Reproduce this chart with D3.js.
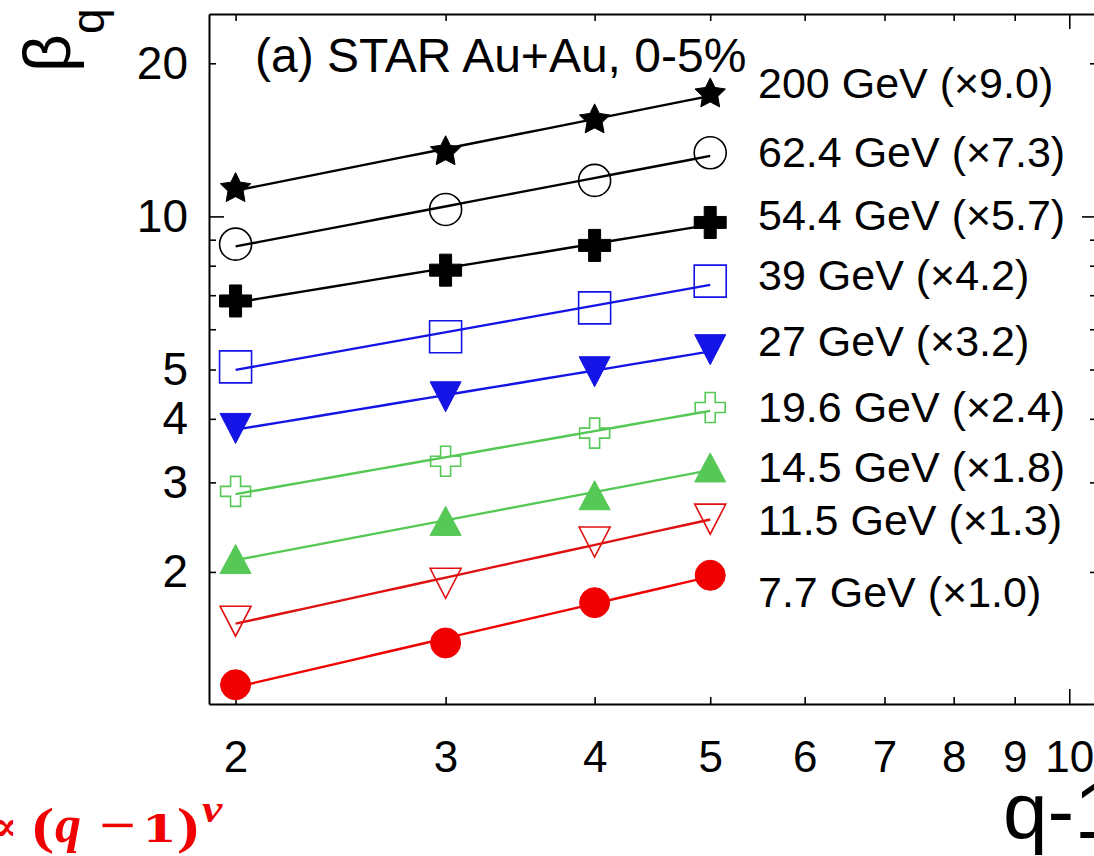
<!DOCTYPE html>
<html>
<head>
<meta charset="utf-8">
<script src="https://cdn.jsdelivr.net/npm/d3@7"></script>
<style>
  body { margin: 0; background: #fff; }
  svg { display: block; }
  text { font-family: "Liberation Sans", Arial, Helvetica, sans-serif; fill: #000; }
</style>
</head>
<body>
<svg id="chart" width="1094" height="856"></svg>
<script>
// q-1 values measured for each beam energy
const qMinus1 = [2, 3, 4, 5];

// beam energies (top to bottom) and the factor each series is scaled by
const energies = ["200 GeV", "62.4 GeV", "54.4 GeV", "39 GeV", "27 GeV", "19.6 GeV", "14.5 GeV", "11.5 GeV", "7.7 GeV"];
const scaleFactors = ["9.0", "7.3", "5.7", "4.2", "3.2", "2.4", "1.8", "1.3", "1.0"];

// scaled beta_q values at q-1 = 2, 3, 4, 5
const beta200  = [11.34, 13.40, 15.48, 17.41];
const beta62   = [8.82, 10.32, 11.77, 13.34];
const beta54   = [6.82, 7.84, 8.77, 9.73];
const beta39   = [5.06, 5.80, 6.61, 7.46];
const beta27   = [3.83, 4.42, 4.95, 5.47];
const beta19   = [2.88, 3.30, 3.75, 4.21];
const beta14   = [2.12, 2.52, 2.83, 3.21];
const beta11   = [1.60, 1.90, 2.29, 2.54];
const beta7    = [1.20, 1.45, 1.74, 1.97];

// axis ticks
const xTicks = [2, 3, 4, 5, 6, 7, 8, 9, 10];
const xTickLabels = [2, 3, 4, 5, 6, 7, 8, 9, 10];
const yTicks = [2, 3, 4, 5, 6, 7, 8, 9, 10, 20];
const yTickLabels = [2, 3, 4, 5, 10, 20];

const seriesValues = [beta200, beta62, beta54, beta39, beta27, beta19, beta14, beta11, beta7];

// drawing style per series
const styles = [
  { color: "#000000", marker: "star",     filled: true  },
  { color: "#000000", marker: "circle",   filled: false },
  { color: "#000000", marker: "cross",    filled: true  },
  { color: "#1414e6", marker: "square",   filled: false },
  { color: "#1414e6", marker: "triDown",  filled: true  },
  { color: "#55c855", marker: "cross",    filled: false },
  { color: "#55c855", marker: "triUp",    filled: true  },
  { color: "#e01010", marker: "triDown",  filled: false },
  { color: "#f00000", marker: "circle",   filled: true  }
];

// legend text rows (pixel baselines)
const legendX = 758;
const legendRows = [98, 167, 230, 290, 356, 422, 482, 535, 607];

const svg = d3.select("#chart");

const plot = { left: 209, right: 1097, top: 14, bottom: 704 };

const x = d3.scaleLog().domain([1.9, 10.55]).range([plot.left, plot.right]);
const y = d3.scaleLog().domain([1.1, 25]).range([plot.bottom, plot.top]);

// ---- axes ----
const tickLen = 7, decadeLen = 15;
function styleAxis(g, orient) {
  g.select(".domain").attr("stroke", "#000").attr("stroke-width", 2);
  g.selectAll(".tick line").attr("stroke", "#000").attr("stroke-width", 1.6);
  g.selectAll(".tick line").each(function(d) {
    const len = d === 10 ? decadeLen : tickLen;
    const el = d3.select(this);
    if (orient === "left") el.attr("x2", len);
    if (orient === "right") el.attr("x2", -len);
    if (orient === "bottom") el.attr("y2", -len);
    if (orient === "top") el.attr("y2", len);
  });
}

svg.append("g")
  .attr("transform", `translate(0,${plot.bottom})`)
  .call(d3.axisBottom(x).tickValues(xTicks).tickSize(-tickLen).tickSizeOuter(0).tickPadding(37)
        .tickFormat(d => xTickLabels.includes(d) ? String(d) : ""))
  .call(g => styleAxis(g, "bottom"))
  .call(g => g.selectAll("text").attr("font-size", 44));

svg.append("g")
  .attr("transform", `translate(0,${plot.top})`)
  .call(d3.axisTop(x).tickValues(xTicks).tickSize(-tickLen).tickSizeOuter(0).tickFormat(""))
  .call(g => styleAxis(g, "top"));

svg.append("g")
  .attr("transform", `translate(${plot.left},0)`)
  .call(d3.axisLeft(y).tickValues(yTicks).tickSize(-tickLen).tickSizeOuter(0).tickPadding(21)
        .tickFormat(d => yTickLabels.includes(d) ? String(d) : ""))
  .call(g => styleAxis(g, "left"))
  .call(g => g.selectAll("text").attr("font-size", 46));

svg.append("g")
  .attr("transform", `translate(${plot.right},0)`)
  .call(d3.axisRight(y).tickValues(yTicks).tickSize(-tickLen).tickSizeOuter(0).tickFormat(""))
  .call(g => styleAxis(g, "right"));

// ---- power-law fits: straight lines in log-log space ----
function powerFit(xs, ys) {
  const lx = xs.map(Math.log), ly = ys.map(Math.log);
  const mx = d3.mean(lx), my = d3.mean(ly);
  const slope = d3.sum(lx, (v, i) => (v - mx) * (ly[i] - my)) / d3.sum(lx, v => (v - mx) * (v - mx));
  const icpt = my - slope * mx;
  return xv => Math.exp(icpt + slope * Math.log(xv));
}

const line = d3.line().x(d => x(d[0])).y(d => y(d[1]));

const xFirst = qMinus1[0], xLast = qMinus1[qMinus1.length - 1];
seriesValues.forEach((vals, i) => {
  const f = powerFit(qMinus1, vals);
  const pts = d3.range(0, 21).map(k => {
    const xv = xFirst * Math.pow(xLast / xFirst, k / 20);
    return [xv, f(xv)];
  });
  svg.append("path")
    .attr("d", line(pts))
    .attr("fill", "none")
    .attr("stroke", styles[i].color)
    .attr("stroke-width", 2.4);
});

// ---- markers ----
function starPath(R, r) {
  const p = [];
  for (let k = 0; k < 10; k++) {
    const a = -Math.PI / 2 + k * Math.PI / 5;
    const rr = k % 2 === 0 ? R : r;
    p.push([rr * Math.cos(a), rr * Math.sin(a)]);
  }
  return "M" + p.map(q => q.join(",")).join("L") + "Z";
}
function crossPath(s, t) {
  return `M${-t},${-s}H${t}V${-t}H${s}V${t}H${t}V${s}H${-t}V${t}H${-s}V${-t}H${-t}Z`;
}
function triPath(w, h, down) {
  const sgn = down ? 1 : -1;
  return `M${-w / 2},${-sgn * h / 2}L${w / 2},${-sgn * h / 2}L0,${sgn * h / 2}Z`;
}
function markerPath(type, filled) {
  switch (type) {
    case "star": return starPath(16, 8);
    case "cross": return filled ? crossPath(16, 6) : crossPath(15, 5);
    case "square": return "M-16,-16H16V16H-16Z";
    case "triDown": return triPath(31, 30, true);
    case "triUp": return triPath(31, 29, false);
    default: return null;
  }
}

seriesValues.forEach((vals, i) => {
  const st = styles[i];
  const g = svg.append("g");
  vals.forEach((v, j) => {
    const cx = x(qMinus1[j]), cy = y(v);
    let el;
    if (st.marker === "circle") {
      el = g.append("circle").attr("cx", cx).attr("cy", cy).attr("r", st.filled ? 15 : 16);
    } else {
      el = g.append("path").attr("transform", `translate(${cx},${cy})`).attr("d", markerPath(st.marker, st.filled));
    }
    if (st.filled) {
      el.attr("fill", st.color).attr("stroke", st.color).attr("stroke-width", 1);
    } else {
      el.attr("fill", "none").attr("stroke", st.color).attr("stroke-width", 1.6);
    }
  });
});

// ---- legend text ----
energies.forEach((e, i) => {
  svg.append("text")
    .attr("x", legendX)
    .attr("y", legendRows[i])
    .attr("font-size", 43)
    .text(`${e} (\u00d7${scaleFactors[i]})`);
});

// ---- panel title ----
svg.append("text")
  .attr("x", 255)
  .attr("y", 72)
  .attr("font-size", 48)
  .text("(a) STAR Au+Au, 0-5%");

// ---- axis titles ----
const yTitle = svg.append("text")
  .attr("transform", "translate(70,72) rotate(-90)")
  .attr("font-size", 66);
yTitle.append("tspan").text("\u03b2");
yTitle.append("tspan").attr("font-size", 46).attr("dy", 34).text("q");

svg.append("text")
  .attr("x", 1003)
  .attr("y", 838)
  .attr("font-size", 80)
  .text("q-1");

// ---- scaling law annotation, set glyph by glyph in a math style ----
const lawColor = "#f00000";
const serif = "'Liberation Serif', 'Times New Roman', serif";
const dejaSerif = "'DejaVu Serif', serif";
const lawGlyphs = [
  { t: "\u221d", x: 17,  y: 840, size: 40, sx: 1.0,  italic: false, font: dejaSerif, anchor: "end" },
  { t: "(",      x: 32,  y: 843, size: 51, sx: 1.3,  italic: false, font: serif },
  { t: "q",      x: 55,  y: 842, size: 52, sx: 1.0,  italic: true,  font: serif },
  { t: "\u2212", x: 99,  y: 842, size: 50, sx: 1.3,  italic: false, font: serif },
  { t: "1",      x: 142, y: 842, size: 37, sx: 1.35, italic: false, font: dejaSerif },
  { t: ")",      x: 177, y: 843, size: 51, sx: 1.3,  italic: false, font: serif },
  { t: "\u03bd", x: 202, y: 822, size: 38, sx: 1.2,  italic: true,  font: serif }
];
lawGlyphs.forEach(gl => {
  svg.append("text")
    .attr("transform", `translate(${gl.x},${gl.y}) scale(${gl.sx},1)`)
    .attr("text-anchor", gl.anchor || "start")
    .attr("font-size", gl.size)
    .style("font-family", gl.font)
    .style("font-weight", "bold")
    .style("font-style", gl.italic ? "italic" : "normal")
    .style("fill", lawColor)
    .text(gl.t);
});
</script>
</body>
</html>
